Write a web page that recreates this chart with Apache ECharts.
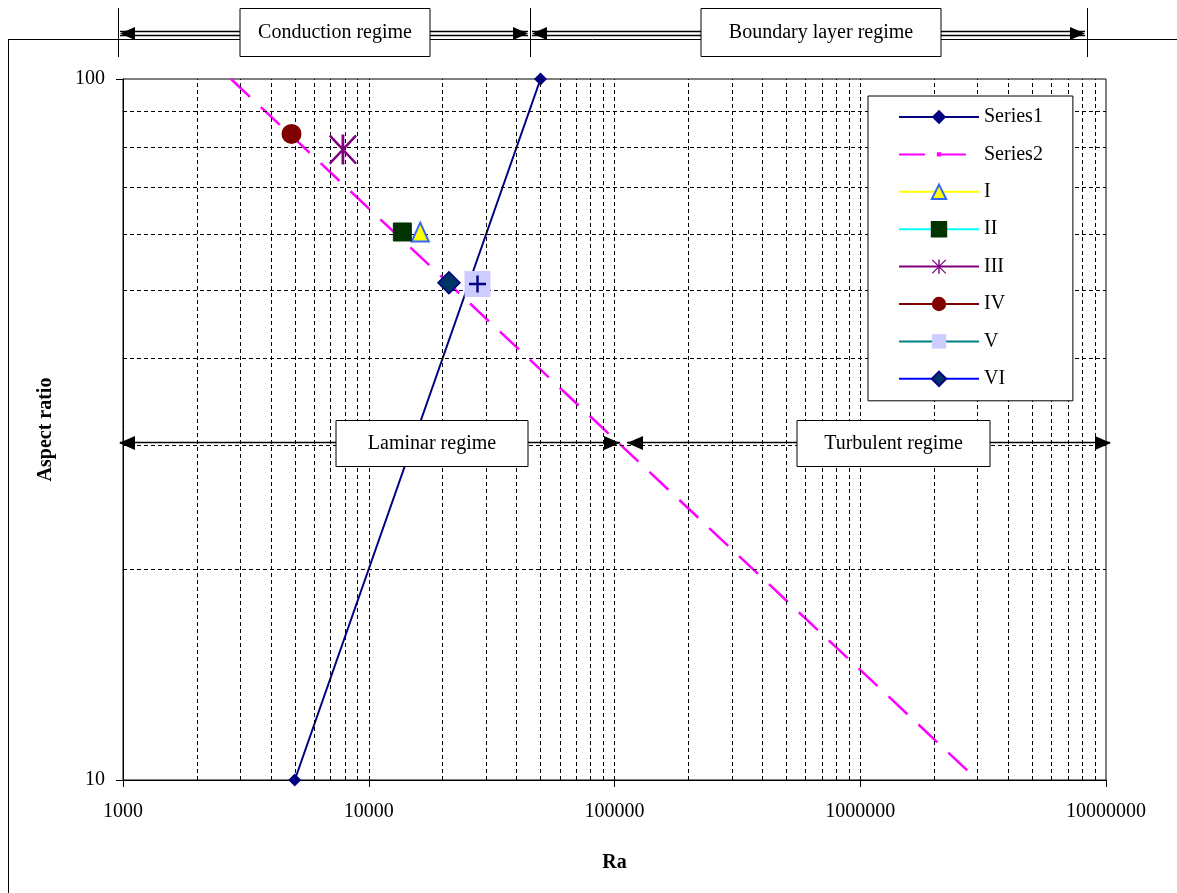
<!DOCTYPE html>
<html><head><meta charset="utf-8">
<script src="https://cdn.jsdelivr.net/npm/echarts@6/dist/echarts.min.js"></script>
<style>html,body{margin:0;padding:0;background:#fff}#c{width:1177px;height:893px}</style>
</head><body><div id="c"></div>
<script>
// ---- data ----
const series1Ra = [5000, 50000];
const series1AR = [10, 100];
const series2Ra = [2750, 3000000];
const series2AR = [100, 10];
const pointNames = ['I', 'II', 'III', 'IV', 'V', 'VI'];
const pointRa = [16200, 13700, 7850, 4850, 27700, 21200];
const pointAR = [60.5, 60.5, 79.3, 83.5, 51, 51.2];
const xGridValues = [2000, 3000, 4000, 5000, 6000, 7000, 8000, 9000,
  10000, 20000, 30000, 40000, 50000, 60000, 70000, 80000, 90000,
  100000, 200000, 300000, 400000, 500000, 600000, 700000, 800000, 900000,
  1000000, 2000000, 3000000, 4000000, 5000000, 6000000, 7000000, 8000000, 9000000];
const yGridValues = [20, 30, 40, 50, 60, 70, 80, 90];
const xTickLabels = ['1000', '10000', '100000', '1000000', '10000000'];
const yTickLabels = ['10', '100'];
const regimeLabels = ['Conduction regime', 'Boundary layer regime', 'Laminar regime', 'Turbulent regime'];
const xAxisTitle = 'Ra';
const yAxisTitle = 'Aspect ratio';

const FONT = "'Liberation Serif', 'Times New Roman', serif";
const FS = 20;
const chart = echarts.init(document.getElementById('c'), null, {renderer: 'canvas'});

const asteriskPath = 'path://M45 0 L55 0 L55 100 L45 100 Z M0 6 L6 0 L100 94 L94 100 Z M94 0 L100 6 L6 100 L0 94 Z';
const plusPath = 'path://M43 0 L57 0 L57 43 L100 43 L100 57 L57 57 L57 100 L43 100 L43 57 L0 57 L0 43 L43 43 Z';
const smallDotPath = 'path://M0 0 L0 0 Z M35 35 L65 35 L65 65 L35 65 Z M100 100 L100 100 Z';

function pt(i) { return [[pointRa[i], pointAR[i]]]; }

const pointStyles = {
  'I':   {symbol: 'triangle', symbolSize: [17, 19], line: '#FFFF00', item: {color: '#FFFF00', borderColor: '#3366FF', borderWidth: 2}},
  'II':  {symbol: 'rect', symbolSize: 18, line: '#00FFFF', item: {color: '#003300', borderColor: '#003300', borderWidth: 1}},
  'III': {symbol: asteriskPath, symbolSize: [28, 30], line: '#800080', item: {color: '#800080'}},
  'IV':  {symbol: 'circle', symbolSize: 20, line: '#800000', item: {color: '#800000'}},
  'V':   {symbol: 'rect', symbolSize: 26, line: '#008080', item: {color: '#CCCCFF'}},
  'VI':  {symbol: 'diamond', symbolSize: 22, line: '#0000FF', item: {color: '#003366', borderColor: '#000080', borderWidth: 1.5}}
};

const series = [
  {
    name: '_grid', type: 'line', data: [], z: 1, silent: true,
    markLine: {
      silent: true, symbol: ['none', 'none'], animation: false,
      label: {show: false},
      lineStyle: {color: '#000', type: [4, 3], width: 1},
      data: xGridValues.map(v => ({xAxis: v})).concat(yGridValues.map(v => ({yAxis: v})))
    }
  },
  {
    name: 'Series1', type: 'line', z: 3,
    data: series1Ra.map((r, i) => [r, series1AR[i]]),
    symbol: 'diamond', symbolSize: 13, showSymbol: true,
    lineStyle: {color: '#000080', width: 2},
    itemStyle: {color: '#000080'}
  },
  {
    name: 'Series2', type: 'line', z: 3,
    data: series2Ra.map((r, i) => [r, series2AR[i]]),
    symbol: smallDotPath, symbolSize: 5, showSymbol: false,
    lineStyle: {color: '#FF00FF', width: 2.5, type: [26, 15]},
    itemStyle: {color: '#FF00FF'}
  }
];
pointNames.forEach((n, i) => {
  const s = pointStyles[n];
  series.push({
    name: n, type: 'line', z: 5, data: pt(i),
    symbol: s.symbol, symbolSize: s.symbolSize, showSymbol: true,
    lineStyle: {color: s.line, width: 2},
    itemStyle: s.item
  });
});
// plus glyph on top of V
series.push({
  name: '_Vplus', type: 'line', z: 6, data: pt(pointNames.indexOf('V')),
  symbol: plusPath, symbolSize: 17, showSymbol: true,
  lineStyle: {width: 0}, itemStyle: {color: '#000080'}
});

function arrowHead(tipX, y, dir, len, half) {
  return {type: 'polygon', z: 100, silent: true,
    shape: {points: [[tipX, y], [tipX + dir * len, y - half], [tipX + dir * len, y + half]]},
    style: {fill: '#000'}};
}
function hline(x1, x2, y, w) {
  return {type: 'line', z: 100, silent: true, shape: {x1, y1: y, x2, y2: y}, style: {stroke: '#000', lineWidth: w || 1}};
}
function vline(x, y1, y2) {
  return {type: 'line', z: 100, silent: true, shape: {x1: x, y1, x2: x, y2}, style: {stroke: '#000', lineWidth: 1}};
}
function box(x1, y1, x2, y2, text) {
  return [
    {type: 'rect', z: 101, silent: true, shape: {x: x1, y: y1, width: x2 - x1, height: y2 - y1},
      style: {fill: '#fff', stroke: '#000', lineWidth: 1}},
    {type: 'text', z: 102, silent: true,
      style: {text, x: (x1 + x2) / 2, y: (y1 + y2) / 2, textAlign: 'center', textVerticalAlign: 'middle',
        font: FS + 'px ' + FONT, fill: '#000'}}
  ];
}

const graphics = [
  hline(8, 1177, 39.5, 1), vline(8.5, 39, 893),
  vline(118.5, 8, 57), vline(530.5, 8, 57), vline(1087.5, 8, 57),
  hline(120, 528, 31.5, 1.4), hline(120, 528, 35.5, 1.4),
  hline(532, 1085, 31.5, 1.4), hline(532, 1085, 35.5, 1.4),
  arrowHead(120, 33.5, 1, 15, 6.5), arrowHead(528, 33.5, -1, 15, 6.5),
  arrowHead(532, 33.5, 1, 15, 6.5), arrowHead(1085, 33.5, -1, 15, 6.5),
  hline(120, 620, 442.5, 1.6), hline(627, 1110, 442.5, 1.6),
  arrowHead(119, 443, 1, 16, 7), arrowHead(620, 443, -1, 16, 7),
  arrowHead(627, 443, 1, 16, 7), arrowHead(1111, 443, -1, 16, 7)
].concat(
  box(240, 8.5, 430, 56.5, regimeLabels[0]),
  box(701, 8.5, 941, 56.5, regimeLabels[1]),
  box(336, 420.5, 528, 466.5, regimeLabels[2]),
  box(797, 420.5, 990, 466.5, regimeLabels[3])
);

const option = {
  animation: false,
  backgroundColor: '#fff',
  textStyle: {fontFamily: FONT},
  grid: {left: 123, top: 79, right: 71, bottom: 113, show: true, borderColor: '#000', borderWidth: 1, backgroundColor: '#fff', containLabel: false},
  legend: {
    data: ['Series1', 'Series2'].concat(pointNames),
    orient: 'vertical', left: 868, top: 96,
    itemWidth: 80, itemHeight: 18, itemGap: 17.4,
    padding: [11, 30, 12, 30],
    backgroundColor: '#fff', borderColor: '#000', borderWidth: 1,
    textStyle: {fontFamily: FONT, fontSize: FS, color: '#000'},
    selectedMode: false, z: 50
  },
  xAxis: {
    type: 'log', logBase: 10, min: 1000, max: 10000000,
    name: xAxisTitle, nameLocation: 'middle', nameGap: 73,
    nameTextStyle: {fontFamily: FONT, fontSize: FS, fontWeight: 'bold', color: '#000'},
    axisLine: {lineStyle: {color: '#000', width: 1}},
    axisTick: {show: true, length: 7, inside: false, lineStyle: {color: '#000'}},
    axisLabel: {margin: 22, fontFamily: FONT, fontSize: FS, color: '#000',
      formatter: v => { const e = Math.round(Math.log10(v)) - 3; return xTickLabels[e] !== undefined ? xTickLabels[e] : ''; }},
    splitLine: {show: false}
  },
  yAxis: {
    type: 'log', logBase: 10, min: 10, max: 100,
    name: yAxisTitle, nameLocation: 'middle', nameGap: 67, nameRotate: 90,
    nameTextStyle: {fontFamily: FONT, fontSize: FS, fontWeight: 'bold', color: '#000'},
    axisLine: {lineStyle: {color: '#000', width: 1}},
    axisTick: {show: true, length: 7, inside: false, lineStyle: {color: '#000'}},
    axisLabel: {margin: 18, fontFamily: FONT, fontSize: FS, color: '#000',
      formatter: v => { const e = Math.round(Math.log10(v)) - 1; return yTickLabels[e] !== undefined ? yTickLabels[e] : ''; }},
    splitLine: {show: false}
  },
  graphic: graphics,
  series
};
chart.setOption(option);
</script>
</body></html>
